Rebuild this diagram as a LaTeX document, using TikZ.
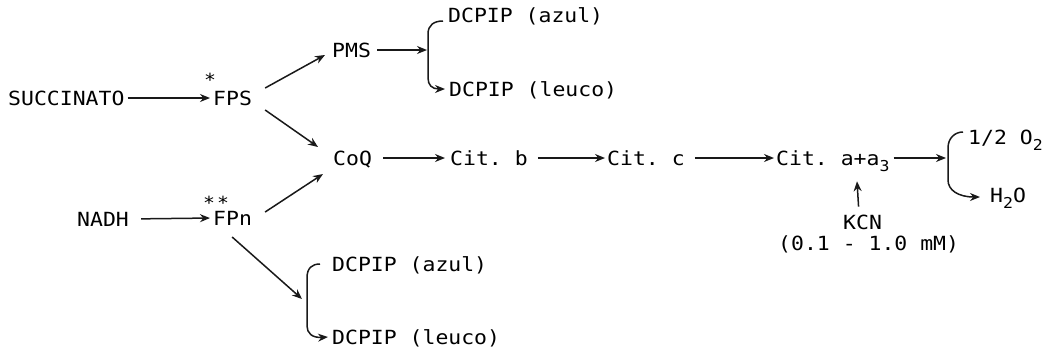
\documentclass[tikz,border=0pt]{standalone}
\usepackage{fontspec}
\setmonofont[FakeStretch=1.1]{DejaVu Sans Mono}
\usetikzlibrary{arrows.meta}
\newcommand\lowsub[1]{\raisebox{-0.35em}{\fontsize{15}{15}\selectfont #1}}

\begin{document}
\begin{tikzpicture}[x=1pt,y=-1pt,
  lbl/.style={inner sep=0pt, anchor=west, text height=14.2pt, text depth=0pt,
              font=\ttfamily\fontsize{19.5}{23}\selectfont},
  star/.style={inner sep=0pt, font=\ttfamily\fontsize{18}{18}\selectfont},
  flow/.style={line width=1.5pt, draw=black!90, -{Stealth[length=10pt,width=8pt]}},
]
\useasboundingbox (0,0) rectangle (1046,351);

% substrates, flavoproteins and acceptors
\node[lbl] (succ) at (8,98) {SUCCINATO};
\node[lbl] (fps)  at (213,98) {FPS};
\node[star] (st1) at (210,80) {*};
\node[lbl] (pms)  at (332,50) {PMS};
\node[lbl] (az1)  at (448,15) {DCPIP (azul)};
\node[lbl] (le1)  at (449,89) {DCPIP (leuco)};
\node[lbl] (coq)  at (333,158) {CoQ};
\node[lbl] (citb) at (450,158) {Cit. b};
\node[lbl] (citc) at (607,158) {Cit. c};
\node[lbl] (cita) at (776,158) {Cit. a+a\lowsub{3}};
\node[lbl] (o2)   at (968,137) {1/2 O\lowsub{2}};
\node[lbl] (h2o)  at (990,195) {H\lowsub{2}O};
\node[lbl] (kcn)  at (843,222) {KCN};
\node[lbl] (mm)   at (778,243) {(0.1 - 1.0 mM)};
\node[lbl] (nadh) at (77,219) {NADH};
\node[lbl] (fpn)  at (213,218) {FPn};
\node[star] (st2) at (216,203) {*\hspace{2pt}*};
\node[lbl] (az2)  at (332,264) {DCPIP (azul)};
\node[lbl] (le2)  at (332,337) {DCPIP (leuco)};

% main chain
\draw[flow, shorten <=3pt, shorten >=3pt] (succ.east) -- (fps.west);
\draw[flow, shorten <=12pt, shorten >=3pt] (nadh.east) -- (fpn.west);
\draw[flow] ([shift={(13,-10)}]fps.east) -- ([shift={(-7,5)}]pms.west);
\draw[flow] ([shift={(13,12)}]fps.east) -- ([shift={(-15,-11)}]coq.west);
\draw[flow] ([shift={(13,-6)}]fpn.east) -- ([shift={(-10,16)}]coq.west);
\draw[flow, shorten <=11pt, shorten >=5pt] (coq.east) -- (citb.west);
\draw[flow, shorten <=10pt, shorten >=2pt] (citb.east) -- (citc.west);
\draw[flow, shorten <=10pt, shorten >=2pt] (citc.east) -- (cita.west);

% PMS branch
\coordinate (b1mid) at ([shift={(-20,35)}]az1.west);
\draw[flow, shorten <=6pt, shorten >=1pt] (pms.east) -- (b1mid);
\draw[flow] ([shift={(-5,6)}]az1.west) .. controls (434,21) and (428,25) .. (428,34)
  -- (428,78) .. controls (428,85) and (432,89) .. ([shift={(-4,0)}]le1.west);

% oxygen branch
\coordinate (b2mid) at ([shift={(-20,21)}]o2.west);
\draw[flow, shorten <=4pt, shorten >=2pt] (cita.east) -- (b2mid);
\draw[flow] ([shift={(-5,-5)}]o2.west) .. controls (955,132) and (948,138) .. (948,148)
  -- (948,180) .. controls (948,190) and (958,197) .. ([shift={(-10,2)}]h2o.west);
\draw[flow] ([shift={(-4,-8)}]kcn.north) -- ([shift={(81,16)}]cita.south west);

% NADH branch
\coordinate (b3mid) at ([shift={(-30,35)}]az2.west);
\draw[flow] ([shift={(-20,19)}]fpn.east) -- (b3mid);
\draw[flow] ([shift={(-12,0)}]az2.west) .. controls (312,264) and (307,268) .. (307,278)
  -- (307,326) .. controls (307,333) and (312,338) .. ([shift={(-4,0)}]le2.west);
\end{tikzpicture}
\end{document}
